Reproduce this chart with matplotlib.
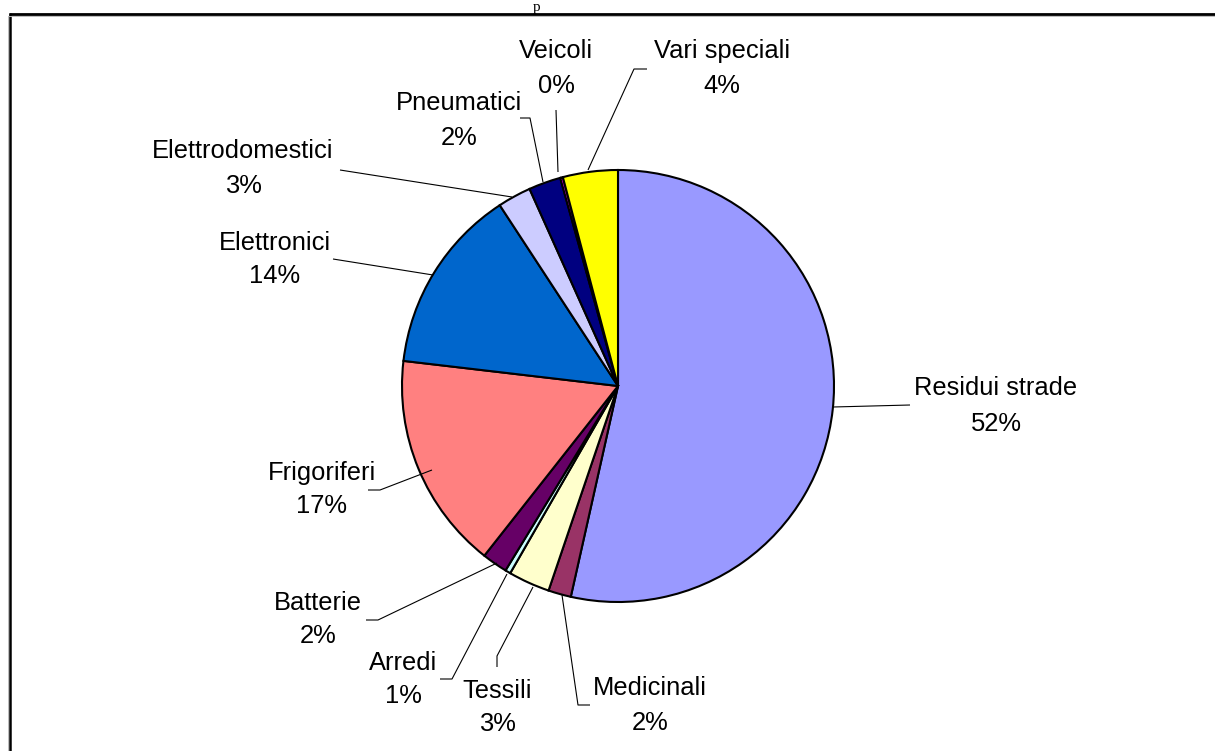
import matplotlib
matplotlib.use("Agg")
import matplotlib.pyplot as plt

# ---- data ----
categories = ["Residui strade", "Medicinali", "Tessili", "Arredi", "Batterie",
              "Frigoriferi", "Elettronici", "Elettrodomestici", "Pneumatici",
              "Veicoli", "Vari speciali"]
values = [53.4, 1.7, 3.1, 0.4, 1.9, 16.2, 13.9, 2.5, 2.4, 0.2, 4.1]
pct_labels = ["52%", "2%", "3%", "1%", "2%", "17%", "14%", "3%", "2%", "0%", "4%"]

# ---- style ----
colors = ["#9999FF", "#993366", "#FFFFCC", "#CCFFFF", "#660066", "#FF8080",
          "#0066CC", "#CCCCFF", "#000080", "#FF00FF", "#FFFF00"]

W, H = 1215, 751
# label layout (image px): name centre x, name baseline y, pct baseline y
label_pos = [(996, 395, 431), (650, 695, 730), (497, 698, 731), (403, 670, 703),
             (318, 610, 643), (322, 480, 513), (275, 250, 283), (243, 158, 193),
             (459, 110, 145), (556, 58, 93), (722, 58, 93)]
leaders = [
    [(833, 407), (910, 405)],
    [(562, 595), (578, 705), (590, 705)],
    [(533, 587), (497, 656), (497, 667)],
    [(507, 574), (452, 679), (440, 679)],
    [(497, 563), (378, 620), (366, 620)],
    [(432, 470), (380, 490), (368, 490)],
    [(433, 275), (333, 259)],
    [(512, 197), (340, 170)],
    [(543, 182), (530, 118), (520, 118)],
    [(558, 172), (556, 110)],
    [(588, 170), (634, 69), (647, 69)],
]

fig = plt.figure(figsize=(W / 100, H / 100), dpi=100)
ax = fig.add_axes([0, 0, 1, 1])

cx, cy, r = 618, H - 386, 216
ax.pie(values, colors=colors, startangle=90, counterclock=False,
       center=(cx, cy), radius=r, frame=True,
       wedgeprops=dict(edgecolor="black", linewidth=1.5))
ax.set_xlim(0, W)
ax.set_ylim(0, H)
ax.set_aspect("equal")
ax.axis("off")

font = "Liberation Sans"
for name, pct, (x, yb1, yb2), pts in zip(categories, pct_labels, label_pos, leaders):
    ax.text(x, H - yb1, name, ha="center", va="baseline", fontsize=18.4,
            family=font, color="black")
    ax.text(x, H - yb2, pct, ha="center", va="baseline", fontsize=18.4,
            family=font, color="black")
    xs = [p[0] for p in pts]
    ys = [H - p[1] for p in pts]
    ax.plot(xs, ys, color="black", lw=0.8, solid_capstyle="butt")

# frame (only top and left edges visible)
ax.plot([9, W], [H - 14, H - 14], color="black", lw=2.0, solid_capstyle="butt")
ax.plot([10, 10], [H - 13, 0], color="black", lw=1.8, solid_capstyle="butt")
ax.plot([8, 8], [H - 16, 0], color="#BBBBBB", lw=0.7)
ax.plot([9, W], [H - 16, H - 16], color="#BBBBBB", lw=0.7)

# caption fragment at the very top
ax.text(537, H - 1, "p", ha="center", va="top", fontsize=11,
        family="Liberation Serif", color="black")

fig.savefig("out.png", dpi=100)
